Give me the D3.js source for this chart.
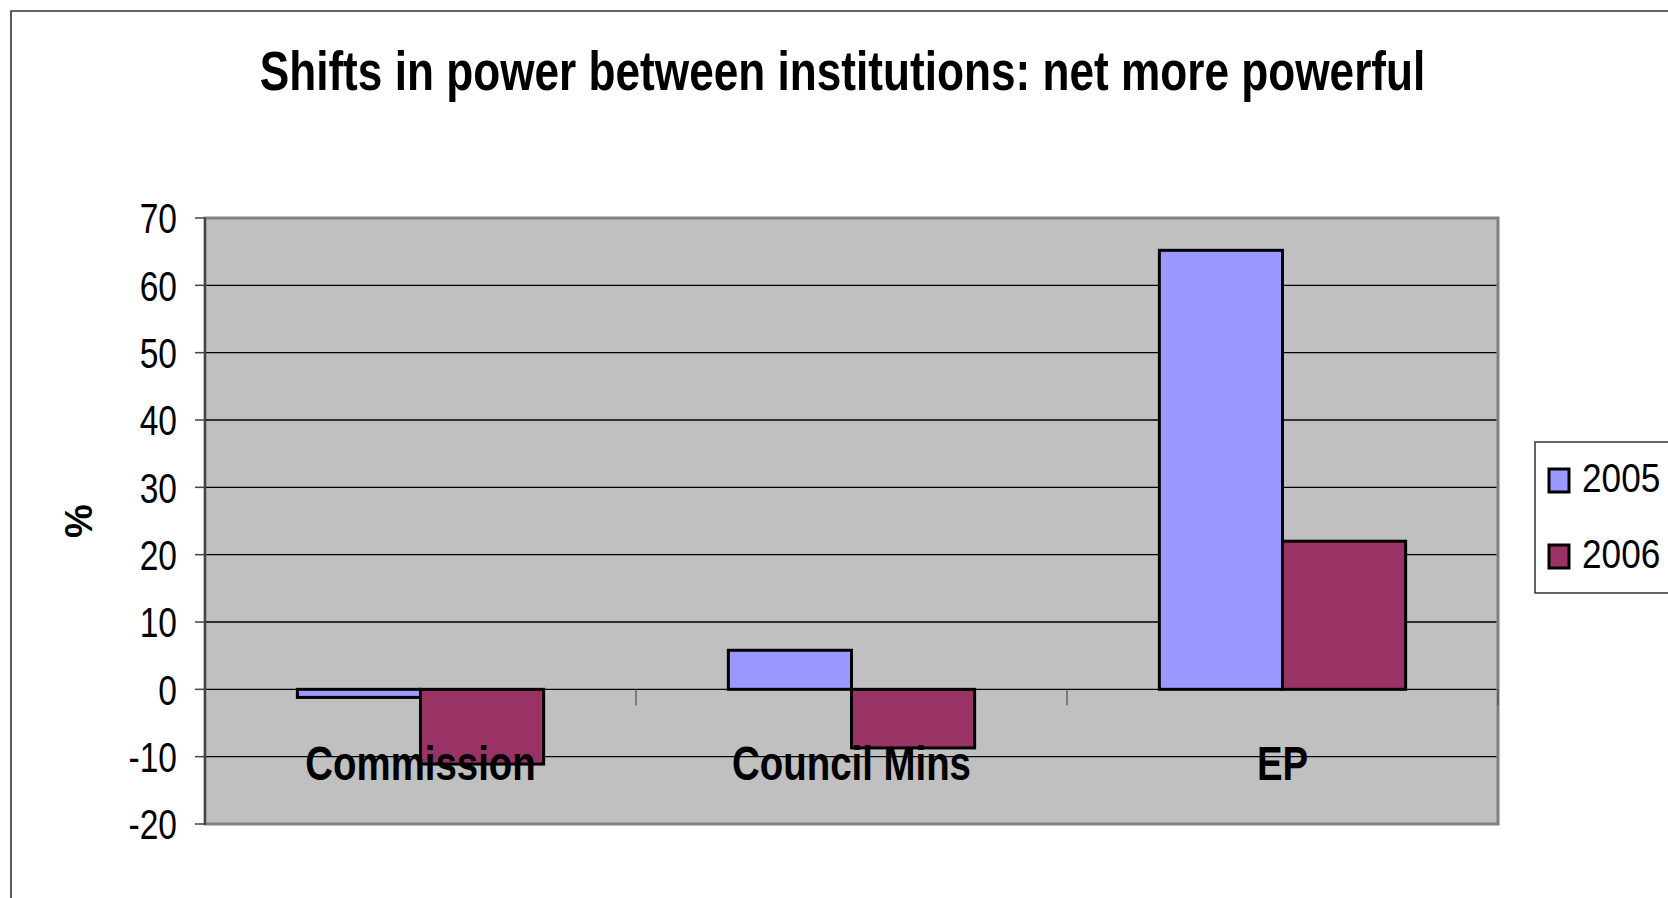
<!DOCTYPE html>
<html>
<head>
<meta charset="utf-8">
<script src="https://cdn.jsdelivr.net/npm/d3@7"></script>
<style>
  html, body { margin: 0; padding: 0; background: #fff; }
  svg { display: block; font-family: "Liberation Sans", Arial, sans-serif; }
</style>
</head>
<body>
<svg id="chart" width="1668" height="898"></svg>
<script>
const titleText = "Shifts in power between institutions: net more powerful";
const categories = ["Commission", "Council Mins", "EP"];
const seriesNames = ["2005", "2006"];
const values2005 = [-1.2, 5.8, 65.2];
const values2006 = [-11.1, -8.7, 22];
const yTicks = [-20, -10, 0, 10, 20, 30, 40, 50, 60, 70];
const yLabel = "%";
const colors = ["#9999FF", "#993366"];

const seriesValues = [values2005, values2006];
const data = categories.map((c, i) => ({
  cat: c,
  vals: seriesNames.map((s, j) => ({ series: s, value: seriesValues[j][i], color: colors[j] }))
}));

const svg = d3.select("#chart");

// outer frame (top and left edges visible; it runs off right and bottom)
svg.append("path")
  .attr("d", "M11,898 L11,11 L1668,11")
  .attr("fill", "none").attr("stroke", "#333").attr("stroke-width", 1.6);

const plot = { left: 205, right: 1498, top: 218, bottom: 824 };

const y = d3.scaleLinear().domain([-20, 70]).range([plot.bottom, plot.top]);
const x0 = d3.scaleBand().domain(categories).range([plot.left, plot.right])
  .paddingInner(1.5 / 3.5).paddingOuter(0.75 / 3.5);
const x1 = d3.scaleBand().domain(seriesNames).range([0, x0.bandwidth()]).padding(0);
const step = x0.step();

// plot area
svg.append("rect")
  .attr("x", plot.left).attr("y", plot.top)
  .attr("width", plot.right - plot.left).attr("height", plot.bottom - plot.top)
  .attr("fill", "#C0C0C0").attr("stroke", "#808080").attr("stroke-width", 3);

// gridlines
svg.append("g").selectAll("line")
  .data(yTicks.filter(t => t !== -20 && t !== 70))
  .join("line")
  .attr("x1", plot.left).attr("x2", plot.right - 1.5)
  .attr("y1", d => y(d)).attr("y2", d => y(d))
  .attr("stroke", "#000").attr("stroke-width", 1.3);

// y axis line and ticks
svg.append("line")
  .attr("x1", plot.left).attr("x2", plot.left)
  .attr("y1", plot.top).attr("y2", plot.bottom + 1)
  .attr("stroke", "#444").attr("stroke-width", 2);
svg.append("g").selectAll("line")
  .data(yTicks).join("line")
  .attr("x1", plot.left - 10).attr("x2", plot.left)
  .attr("y1", d => y(d)).attr("y2", d => y(d))
  .attr("stroke", "#444").attr("stroke-width", 1.5);

// y tick labels (condensed)
const yl = svg.append("g").selectAll("g")
  .data(yTicks).join("g")
  .attr("transform", d => `translate(177,${y(d)}) scale(0.78,1)`);
yl.append("text")
  .attr("text-anchor", "end")
  .attr("dy", "0.36em")
  .attr("font-size", 43)
  .attr("fill", "#000")
  .text(d => d);

// category tick marks on zero line
svg.append("g").selectAll("line")
  .data(d3.range(1, categories.length + 1))
  .join("line")
  .attr("x1", d => plot.left + d * step).attr("x2", d => plot.left + d * step)
  .attr("y1", y(0)).attr("y2", y(0) + 16)
  .attr("stroke", "#555").attr("stroke-width", 1.3);

// bars
const groups = svg.append("g").selectAll("g")
  .data(data).join("g")
  .attr("transform", d => `translate(${x0(d.cat)},0)`);
groups.selectAll("rect")
  .data(d => d.vals).join("rect")
  .attr("x", d => x1(d.series))
  .attr("width", x1.bandwidth())
  .attr("y", d => y(Math.max(0, d.value)))
  .attr("height", d => Math.abs(y(d.value) - y(0)))
  .attr("fill", d => d.color)
  .attr("stroke", "#000").attr("stroke-width", 3);

// category labels
const cl = svg.append("g").selectAll("g")
  .data(categories).join("g")
  .attr("transform", d => `translate(${x0(d) + x0.bandwidth() / 2},${y(0) + 91}) scale(0.8,1)`);
cl.append("text")
  .attr("text-anchor", "middle")
  .attr("font-size", 48)
  .attr("font-weight", "bold")
  .attr("fill", "#000")
  .text(d => d);

// y axis label
svg.append("text")
  .attr("transform", "translate(92,521) rotate(-90)")
  .attr("text-anchor", "middle")
  .attr("font-size", 38)
  .attr("font-weight", "bold")
  .text(yLabel);

// title (condensed to fit its measured width)
const tg = svg.append("g");
const tt = tg.append("text")
  .attr("text-anchor", "middle")
  .attr("font-size", 56)
  .attr("font-weight", "bold")
  .text(titleText);
const natural = tt.node().getComputedTextLength();
const sx = natural > 0 ? 1166 / natural : 0.75;
tg.attr("transform", `translate(842.5,90) scale(${sx},1)`);

// legend
const legend = svg.append("g");
legend.append("path")
  .attr("d", "M1668,442 L1535,442 L1535,593 L1668,593")
  .attr("fill", "#fff").attr("stroke", "#333").attr("stroke-width", 1.5);
const li = legend.selectAll("g.item")
  .data(seriesNames).join("g").attr("class", "item")
  .attr("transform", (d, i) => `translate(0,${i * 76})`);
li.append("rect")
  .attr("x", 1549).attr("y", 469).attr("width", 20).attr("height", 23)
  .attr("fill", (d, i) => colors[i])
  .attr("stroke", "#000").attr("stroke-width", 3);
li.append("g")
  .attr("transform", "translate(1582,492) scale(0.88,1)")
  .append("text")
  .attr("font-size", 40)
  .attr("fill", "#000")
  .text(d => d);
</script>
</body>
</html>
